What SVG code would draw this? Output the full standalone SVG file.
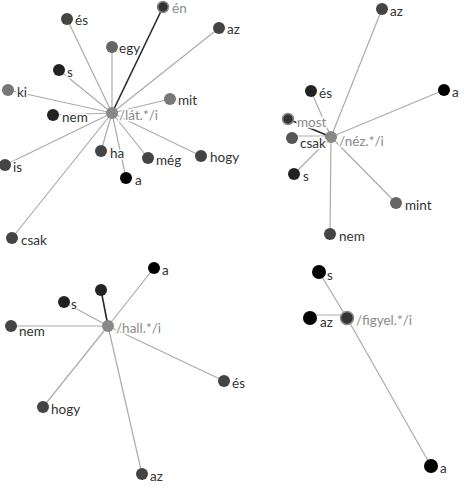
<svg xmlns="http://www.w3.org/2000/svg" width="464" height="488" viewBox="0 0 464 488">
<style>
.e{stroke:#ababab;stroke-width:1.2;fill:none}
.ed{stroke:#2a2a2a;stroke-width:1.6;fill:none}
text{font-family:Lato,"Open Sans","Liberation Sans",sans-serif;font-size:13.5px;fill:#333;paint-order:stroke;stroke:#fff;stroke-width:3px;stroke-linejoin:round}
text.g{fill:#8a8a8a}
.c{fill:#888}
.ring{fill:#333;stroke:#8a8a8a;stroke-width:1.5}
.n1{fill:#444}.n0{fill:#000}.n2{fill:#222}.n6{fill:#666}.n7{fill:#777}.n5{fill:#555}
</style>
<rect width="464" height="488" fill="#fff"/>
<g id="edges">
<line class="e" x1="112" y1="113" x2="67" y2="19"/>
<line class="e" x1="112" y1="113" x2="219" y2="28"/>
<line class="e" x1="112" y1="113" x2="112" y2="47"/>
<line class="e" x1="112" y1="113" x2="59" y2="70"/>
<line class="e" x1="112" y1="113" x2="8" y2="90"/>
<line class="e" x1="112" y1="113" x2="170" y2="99"/>
<line class="e" x1="112" y1="113" x2="53" y2="115"/>
<line class="e" x1="112" y1="113" x2="5" y2="165"/>
<line class="e" x1="112" y1="113" x2="101" y2="151"/>
<line class="e" x1="112" y1="113" x2="148" y2="158"/>
<line class="e" x1="112" y1="113" x2="201" y2="156"/>
<line class="e" x1="112" y1="113" x2="126" y2="178"/>
<line class="e" x1="112" y1="113" x2="12" y2="238"/>
<line class="ed" x1="112" y1="113" x2="163" y2="7"/>
<line class="e" x1="331" y1="137" x2="382" y2="9"/>
<line class="e" x1="331" y1="137" x2="311" y2="91"/>
<line class="e" x1="331" y1="137" x2="444" y2="90"/>
<line class="e" x1="331" y1="136" x2="292" y2="136"/>
<line class="e" x1="331" y1="137" x2="294" y2="174"/>
<line class="e" x1="331" y1="137" x2="396" y2="203"/>
<line class="e" x1="331" y1="137" x2="330" y2="234"/>
<line class="ed" x1="331" y1="137" x2="288" y2="119"/>
<line class="e" x1="108" y1="326" x2="154" y2="268"/>
<line class="e" x1="108" y1="326" x2="64" y2="302"/>
<line class="e" x1="108" y1="326" x2="11" y2="326"/>
<line class="e" x1="108" y1="326" x2="224" y2="381"/>
<line class="e" x1="108" y1="326" x2="43" y2="407"/>
<line class="e" x1="108" y1="326" x2="142" y2="474"/>
<line class="ed" x1="108" y1="326" x2="101" y2="290"/>
<line class="e" x1="347" y1="318" x2="319" y2="272"/>
<line class="e" x1="347" y1="315" x2="310" y2="315"/>
<line class="e" x1="347" y1="318" x2="431" y2="466"/>
</g>
<g id="n-lat"><circle class="c" cx="112" cy="113" r="6"/><text class="g" x="119" y="120">/lát.*/i</text></g>
<g id="n1-en"><circle class="ring" cx="163" cy="7" r="5.5"/><text class="g" x="172" y="13">én</text></g>
<g id="n1-es"><circle class="n1" cx="67" cy="19" r="6"/><text x="75" y="25">és</text></g>
<g id="n1-az"><circle class="n1" cx="219" cy="28" r="6"/><text x="227" y="34">az</text></g>
<g id="n1-egy"><circle class="n6" cx="112" cy="47" r="6"/><text x="119" y="53">egy</text></g>
<g id="n1-s"><circle class="n2" cx="59" cy="70" r="6"/><text x="67" y="77">s</text></g>
<g id="n1-ki"><circle class="n7" cx="8" cy="90" r="6"/><text x="17" y="97">ki</text></g>
<g id="n1-mit"><circle class="n7" cx="170" cy="99" r="6"/><text x="178" y="105">mit</text></g>
<g id="n1-nem"><circle class="n2" cx="53" cy="115" r="6"/><text x="62" y="122">nem</text></g>
<g id="n1-is"><circle class="n1" cx="5" cy="165" r="6"/><text x="13" y="172">is</text></g>
<g id="n1-ha"><circle class="n1" cx="101" cy="151" r="6"/><text x="110" y="158">ha</text></g>
<g id="n1-meg"><circle class="n1" cx="148" cy="158" r="6"/><text x="156" y="165">még</text></g>
<g id="n1-hogy"><circle class="n1" cx="201" cy="156" r="6"/><text x="210" y="162">hogy</text></g>
<g id="n1-a"><circle class="n0" cx="126" cy="178" r="6"/><text x="135" y="185">a</text></g>
<g id="n1-csak"><circle class="n1" cx="12" cy="238" r="6"/><text x="21" y="245">csak</text></g>
<g id="n-nez"><circle class="c" cx="331" cy="137" r="6"/><text class="g" x="339" y="146">/néz.*/i</text></g>
<g id="n2-az"><circle class="n1" cx="382" cy="9" r="6"/><text x="390" y="16">az</text></g>
<g id="n2-es"><circle class="n2" cx="311" cy="91" r="6"/><text x="319" y="98">és</text></g>
<g id="n2-a"><circle class="n0" cx="444" cy="90" r="6"/><text x="452" y="97">a</text></g>
<g id="n2-most"><circle class="ring" cx="288" cy="119" r="5.5"/><text class="g" x="297" y="127">most</text></g>
<g id="n2-csak"><circle class="n5" cx="292" cy="138" r="6"/><text x="300" y="148">csak</text></g>
<g id="n2-s"><circle class="n2" cx="294" cy="174" r="6"/><text x="303" y="181">s</text></g>
<g id="n2-mint"><circle class="n6" cx="396" cy="203" r="6"/><text x="405" y="210">mint</text></g>
<g id="n2-nem"><circle class="n1" cx="330" cy="234" r="6"/><text x="339" y="241">nem</text></g>
<g id="n-hall"><circle class="c" cx="108" cy="326" r="6"/><text class="g" x="116" y="333">/hall.*/i</text></g>
<g id="n3-a"><circle class="n0" cx="154" cy="268" r="6"/><text x="162" y="275">a</text></g>
<g id="n3-x"><circle class="n2" cx="101" cy="290" r="6"/></g>
<g id="n3-s"><circle class="n2" cx="64" cy="302" r="6"/><text x="71" y="309">s</text></g>
<g id="n3-nem"><circle class="n1" cx="11" cy="326" r="6"/><text x="19" y="336">nem</text></g>
<g id="n3-es"><circle class="n1" cx="224" cy="381" r="6"/><text x="232" y="388">és</text></g>
<g id="n3-hogy"><circle class="n1" cx="43" cy="407" r="6"/><text x="51" y="414">hogy</text></g>
<g id="n3-az"><circle class="n1" cx="142" cy="474" r="6"/><text x="150" y="481">az</text></g>
<g id="n-figyel"><circle class="ring" cx="347" cy="318" r="6.5"/><text class="g" x="356" y="325">/figyel.*/i</text></g>
<g id="n4-s"><circle class="n0" cx="319" cy="272" r="7"/><text x="327" y="280">s</text></g>
<g id="n4-az"><circle class="n0" cx="310" cy="318" r="7"/><text x="320" y="327">az</text></g>
<g id="n4-a"><circle class="n0" cx="431" cy="466" r="7"/><text x="440" y="473">a</text></g>
</svg>
